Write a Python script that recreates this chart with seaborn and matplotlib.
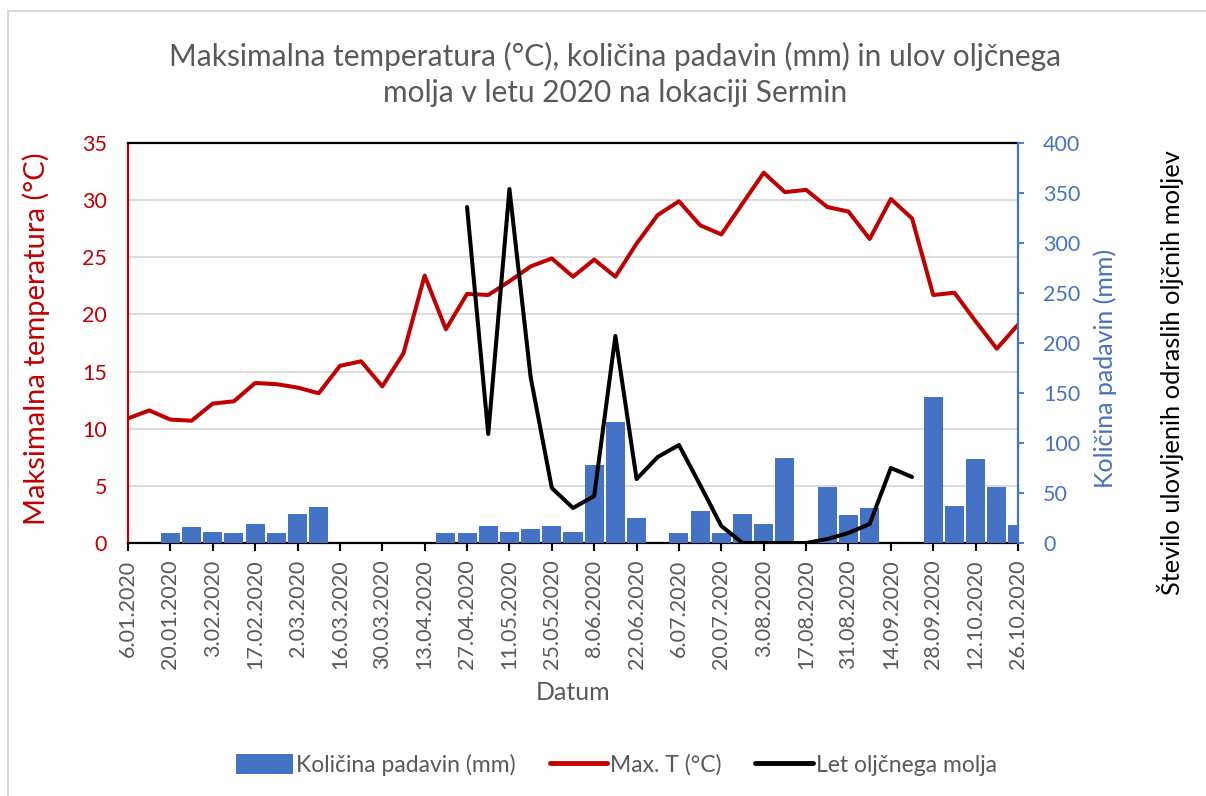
import numpy as np
import pandas as pd
import matplotlib
matplotlib.use('Agg')
import matplotlib.pyplot as plt
import seaborn as sns
from matplotlib.lines import Line2D
from matplotlib.patches import Patch, Rectangle

# ---------------- data ----------------
week = list(range(43))
tick_labels = ['6.01.2020', '20.01.2020', '3.02.2020', '17.02.2020', '2.03.2020',
               '16.03.2020', '30.03.2020', '13.04.2020', '27.04.2020', '11.05.2020',
               '25.05.2020', '8.06.2020', '22.06.2020', '6.07.2020', '20.07.2020',
               '3.08.2020', '17.08.2020', '31.08.2020', '14.09.2020', '28.09.2020',
               '12.10.2020', '26.10.2020']
max_temp = [10.9, 11.6, 10.8, 10.7, 12.2, 12.4, 14.0, 13.9, 13.6, 13.1, 15.5, 15.9,
            13.7, 16.6, 23.4, 18.7, 21.8, 21.7, 22.9, 24.2, 24.9, 23.3, 24.8, 23.3,
            26.2, 28.7, 29.9, 27.8, 27.0, 29.7, 32.4, 30.7, 30.9, 29.4, 29.0, 26.6,
            30.1, 28.4, 21.7, 21.9, 19.4, 17.0, 19.1]
nan = np.nan
precip = [nan, nan, 10, 16, 11, 10, 19, 10, 29, 36, nan, nan, nan, nan, nan,
          10, 10, 17, 11, 14, 17, 11, 78, 121, 25, nan, 10, 32, 10, 29, 19, 85,
          nan, 56, 28, 35, nan, nan, 146, 37, 84, 56, 18]
moth = [nan] * 16 + [336, 109, 354, 166, 55, 35, 47, 207, 64, 86, 98, 58, 17,
                     0, 0, 0, 0, 4, 10, 19, 75, 66] + [nan] * 5

title = 'Maksimalna temperatura (°C), količina padavin (mm) in ulov oljčnega\nmolja v letu 2020 na lokaciji Sermin'

RED = '#C00000'
BLUE = '#4472C4'
GRAY = '#595959'

df = pd.DataFrame({'week': week, 'temp': max_temp, 'precip': precip, 'moth': moth})

# ---------------- figure ----------------
sns.set_theme(style='white')
plt.rcParams['font.family'] = ['Lato', 'DejaVu Sans']

W, H = 1206, 796
fig = plt.figure(figsize=(W / 100, H / 100), dpi=100)
fig.patch.set_facecolor('white')
ax = fig.add_axes([128 / W, 1 - 543 / H, 890 / W, 400 / H])
ax2 = ax.twinx()

ax.yaxis.grid(True, color='#D9D9D9', linewidth=1.3)
ax.xaxis.grid(False)
ax.set_axisbelow(True)

sns.barplot(data=df.dropna(subset=['precip']), x='week', y='precip', ax=ax2,
            native_scale=True, color=BLUE, width=0.9, linewidth=0,
            saturation=1, errorbar=None)
sns.lineplot(data=df, x='week', y='temp', ax=ax, color=RED, linewidth=2.9)
sns.lineplot(data=df.dropna(subset=['moth']), x='week', y='moth', ax=ax2,
             color='black', linewidth=2.9)

ax.set_xlim(0, 42)
ax.set_ylim(0, 35)
ax2.set_ylim(0, 400)
ax2.set_xlim(0, 42)

ax.set_xticks(range(0, 43, 2))
ax.set_xticklabels(tick_labels, rotation=90, color=GRAY, fontsize=15.5)
ax.set_yticks(range(0, 36, 5))
ax.set_yticklabels([str(v) for v in range(0, 36, 5)], color=RED, fontsize=15.5)
ax2.set_yticks(range(0, 401, 50))
ax2.set_yticklabels([str(v) for v in range(0, 401, 50)], color=BLUE, fontsize=15.5)

ax.tick_params(axis='x', direction='out', length=6, width=1.5, color='black', pad=6, bottom=True)
ax.tick_params(axis='y', length=0, pad=15)
ax2.tick_params(axis='y', direction='out', length=4, width=1.3, color=BLUE, pad=14, right=True)
ax.set_xlabel('')
ax.set_ylabel('')
ax2.set_xlabel('')
ax2.set_ylabel('')

for s in ['left', 'right', 'top', 'bottom']:
    ax.spines[s].set_visible(True)
    ax2.spines[s].set_visible(False)
ax.spines['left'].set_color(RED)
ax.spines['left'].set_linewidth(1.6)
ax.spines['top'].set_color('black')
ax.spines['top'].set_linewidth(1.6)
ax.spines['bottom'].set_color('black')
ax.spines['bottom'].set_linewidth(1.6)
ax.spines['right'].set_visible(False)
ax2.spines['right'].set_visible(True)
ax2.spines['right'].set_color(BLUE)
ax2.spines['right'].set_linewidth(1.6)

# ---------------- texts ----------------
fig.text(615 / W, 1 - 74 / H, title, ha='center', va='center', color=GRAY,
         fontsize=21.5, linespacing=1.35)
fig.text(36 / W, 1 - 339 / H, 'Maksimalna temperatura (°C)', rotation=90,
         ha='center', va='center', color=RED, fontsize=21)
fig.text(1105 / W, 1 - 368 / H, 'Količina padavin (mm)', rotation=90,
         ha='center', va='center', color=BLUE, fontsize=18)
fig.text(1170 / W, 1 - 373 / H, 'Število ulovljenih odraslih oljčnih moljev', rotation=90,
         ha='center', va='center', color='black', fontsize=18.3)
fig.text(573 / W, 1 - 692 / H, 'Datum', ha='center', va='center', color=GRAY, fontsize=18)

handles = [Patch(facecolor=BLUE, edgecolor='none'),
           Line2D([], [], color=RED, linewidth=3.5),
           Line2D([], [], color='black', linewidth=3.5)]
labels = ['Količina padavin (mm)', 'Max. T (°C)', 'Let oljčnega molja']
leg = fig.legend(handles, labels, loc='center', bbox_to_anchor=(616 / W, 1 - 765 / H),
                 ncol=3, frameon=False, fontsize=16.5, handlelength=2.5,
                 handleheight=0.95, handletextpad=0.12, columnspacing=1.5)
for t in leg.get_texts():
    t.set_color(GRAY)

fig.add_artist(Rectangle((8 / W, -0.1), 1.2, 1 - 11 / H + 0.1, transform=fig.transFigure,
                         fill=False, edgecolor='#D9D9D9', linewidth=1.5))

fig.savefig('out.png', dpi=100, facecolor='white')
